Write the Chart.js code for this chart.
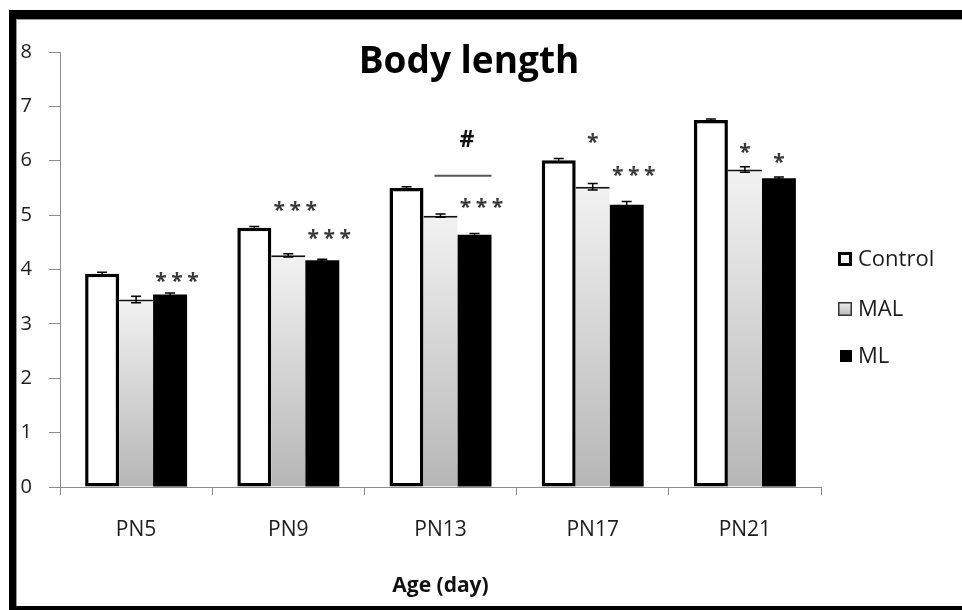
<!DOCTYPE html>
<html>
<head>
<meta charset="utf-8">
<title>Body length</title>
<script src="https://cdn.jsdelivr.net/npm/chart.js@4.4.1/dist/chart.umd.min.js"></script>
<style>
  html, body { margin: 0; padding: 0; background: #ffffff; }
  body { width: 962px; height: 610px; position: relative; overflow: hidden; }
  #frame {
    position: absolute; left: 9px; top: 10px; width: 1000px; height: 587px;
    border-top: 9px solid #000; border-left: 7px solid #000; border-bottom: 5px solid #000;
    box-shadow: inset 1px 1px 0 #9a9a9a;
  }
  #chart { position: absolute; left: 0; top: 0; }
</style>
</head>
<body>
<div id="frame"></div>
<canvas id="chart" width="962" height="610"></canvas>
<script>
// Body length (cm) by postnatal age, mean ± SEM
const categories = ['PN5', 'PN9', 'PN13', 'PN17', 'PN21'];
const seriesNames = ['Control', 'MAL', 'ML'];
const controlMean = [3.92, 4.77, 5.50, 6.01, 6.75];
const malMean     = [3.45, 4.26, 4.99, 5.52, 5.84];
const mlMean      = [3.54, 4.17, 4.64, 5.19, 5.68];
const controlSem  = [0.03, 0.02, 0.02, 0.03, 0.02];
const malSem      = [0.06, 0.03, 0.03, 0.06, 0.05];
const mlSem       = [0.03, 0.02, 0.02, 0.06, 0.02];
const yTicks      = [0, 1, 2, 3, 4, 5, 6, 7, 8];

// significance vs. Control (*) and MAL vs. ML (#)
const malMarks  = ['', '***', '', '*', '*'];
const mlMarks   = ['***', '***', '***', '***', '*'];
const pairMarks = ['', '', '#', '', ''];

const FONT = '"Open Sans", Lato, sans-serif';
const AXIS_GREY = '#8c8c8c';

function malGradient(ctx) {
  const chart = ctx.chart;
  const y = chart.scales && chart.scales.y;
  if (!y || ctx.type !== 'data' || !chart.chartArea) return '#d4d4d4';
  const top = y.getPixelForValue(ctx.raw);
  const base = y.getPixelForValue(0);
  const g = chart.ctx.createLinearGradient(0, top, 0, base);
  g.addColorStop(0, '#f2f2f2');
  g.addColorStop(1, '#b6b6b6');
  return g;
}

// mean ± SEM whiskers on every bar
const errorBars = {
  id: 'errorBars',
  afterDatasetsDraw(chart) {
    const c = chart.ctx, y = chart.scales.y;
    const sems = [controlSem, malSem, mlSem];
    c.save();
    c.strokeStyle = '#000';
    c.lineWidth = 1.5;
    chart.data.datasets.forEach((ds, i) => {
      chart.getDatasetMeta(i).data.forEach((bar, j) => {
        const v = ds.data[j], e = sems[i][j];
        const yt = y.getPixelForValue(v + e), yb = y.getPixelForValue(v - e);
        c.beginPath();
        c.moveTo(bar.x, yb); c.lineTo(bar.x, yt);
        c.moveTo(bar.x - 5, yt); c.lineTo(bar.x + 5, yt);
        c.moveTo(bar.x - 5, yb); c.lineTo(bar.x + 5, yb);
        c.stroke();
      });
    });
    c.restore();
  }
};

// stars above bars, "#" with a bracket line over the MAL/ML pair
const sigMarks = {
  id: 'sigMarks',
  afterDatasetsDraw(chart, args, opts) {
    const c = chart.ctx;
    const lists = { 1: malMarks, 2: mlMarks };
    c.save();
    c.fillStyle = '#3a3a3a';
    c.textAlign = 'center';
    c.textBaseline = 'middle';
    c.font = 'bold 21px ' + FONT;
    Object.keys(lists).forEach(k => {
      const meta = chart.getDatasetMeta(+k);
      lists[k].forEach((txt, j) => {
        if (!txt) return;
        const bar = meta.data[j];
        const cy = bar.y - opts.lift[k][j] + 4;
        const n = txt.length;
        const shift = n > 1 ? 7 : 0;
        for (let s = 0; s < n; s++) {
          c.fillText('*', bar.x + shift + (s - (n - 1) / 2) * 16, cy);
        }
      });
    });
    pairMarks.forEach((txt, j) => {
      if (!txt) return;
      const a = chart.getDatasetMeta(1).data[j];
      const b = chart.getDatasetMeta(2).data[j];
      const x0 = a.x - 6, x1 = b.x + b.width / 2;
      const ly = b.y - opts.pairLift;
      c.strokeStyle = '#555';
      c.lineWidth = 2;
      c.beginPath(); c.moveTo(x0, ly); c.lineTo(x1, ly); c.stroke();
      c.font = 'bold 23px ' + FONT;
      c.fillStyle = '#111';
      c.fillText(txt, (x0 + x1) / 2 + 4, ly - 35);
    });
    c.restore();
  }
};

// chart heading
const heading = {
  id: 'heading',
  afterDraw(chart) {
    const c = chart.ctx;
    c.save();
    c.font = 'bold 37px ' + FONT;
    c.fillStyle = '#000';
    c.textAlign = 'center';
    c.textBaseline = 'alphabetic';
    c.fillText('Body length', 469, 73);
    c.restore();
  }
};

// series key at the right
const seriesKey = {
  id: 'seriesKey',
  afterDraw(chart) {
    const c = chart.ctx;
    const rows = [259, 309, 356];
    c.save();
    c.font = '22px ' + FONT;
    c.textBaseline = 'middle';
    c.textAlign = 'left';
    seriesNames.forEach((name, i) => {
      const cy = rows[i], x = 838, s = 14;
      if (i === 0) {
        c.fillStyle = '#fff'; c.fillRect(x, cy - s / 2, s, s);
        c.strokeStyle = '#000'; c.lineWidth = 3; c.strokeRect(x + 1.5, cy - s / 2 + 1.5, s - 3, s - 3);
      } else if (i === 1) {
        const g = c.createLinearGradient(0, cy - s / 2, 0, cy + s / 2);
        g.addColorStop(0, '#f2f2f2'); g.addColorStop(1, '#b6b6b6');
        c.fillStyle = g; c.fillRect(x, cy - s / 2, s, s);
        c.strokeStyle = '#333'; c.lineWidth = 1.5; c.strokeRect(x + 0.75, cy - s / 2 + 0.75, s - 1.5, s - 1.5);
      } else {
        c.fillStyle = '#000'; c.fillRect(x + 2, cy - 6, 12, 12);
      }
      c.fillStyle = '#1c1c1c';
      c.fillText(name, 858, cy + 1);
    });
    c.restore();
  }
};

new Chart(document.getElementById('chart'), {
  type: 'bar',
  data: {
    labels: categories,
    datasets: [
      { label: seriesNames[0], data: controlMean, backgroundColor: '#ffffff', borderColor: '#000000', borderWidth: 3.5, borderSkipped: false },
      { label: seriesNames[1], data: malMean, backgroundColor: malGradient, borderColor: '#111111', borderWidth: { top: 2, left: 0, right: 0, bottom: 0 }, borderSkipped: false },
      { label: seriesNames[2], data: mlMean, backgroundColor: '#000000', borderWidth: 0 }
    ]
  },
  options: {
    responsive: false,
    animation: false,
    datasets: { bar: { categoryPercentage: 0.67, barPercentage: 1.0 } },
    layout: { padding: { top: 52, right: 141, left: 0, bottom: 0 } },
    plugins: {
      legend: { display: false },
      title: { display: false },
      tooltip: { enabled: false },
      sigMarks: { lift: { 1: [0, 48, 0, 48, 20], 2: [16, 25, 31, 33, 19] }, pairLift: 59 }
    },
    scales: {
      x: {
        grid: { drawOnChartArea: false, offset: true, tickLength: 8, color: AXIS_GREY },
        border: { color: AXIS_GREY, width: 1 },
        ticks: { color: '#1c1c1c', font: { family: FONT, size: 21 }, padding: 22 },
        title: { display: true, text: 'Age (day)', color: '#111', font: { family: FONT, size: 21, weight: 'bold' }, padding: { top: 0, bottom: 11 } },
        afterFit(scale) { scale.height = 123; }
      },
      y: {
        min: 0, max: 8,
        afterBuildTicks(scale) { scale.ticks = yTicks.map(v => ({ value: v })); },
        grid: { drawOnChartArea: false, tickLength: 11, color: AXIS_GREY },
        border: { color: AXIS_GREY, width: 1 },
        ticks: { color: '#1c1c1c', font: { family: FONT, size: 20 }, padding: 17 },
        afterFit(scale) { scale.width = 60; }
      }
    }
  },
  plugins: [errorBars, sigMarks, heading, seriesKey]
});
</script>
</body>
</html>
